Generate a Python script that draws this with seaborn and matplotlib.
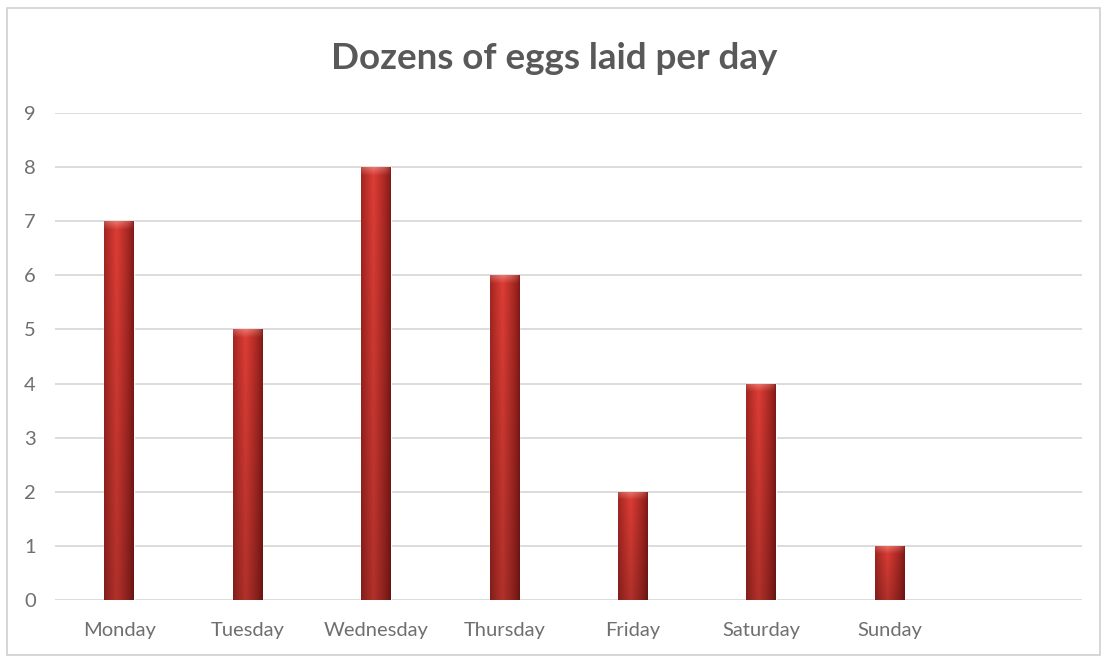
import numpy as np
import pandas as pd
import matplotlib
matplotlib.use("Agg")
import matplotlib.pyplot as plt
import seaborn as sns
from matplotlib.colors import to_rgb

days = ["Monday", "Tuesday", "Wednesday", "Thursday", "Friday", "Saturday", "Sunday"]
dozens = [7, 5, 8, 6, 2, 4, 1]
yticks = [0, 1, 2, 3, 4, 5, 6, 7, 8, 9]
title = "Dozens of eggs laid per day"

sns.set_theme(style="white")
plt.rcParams["font.family"] = ["Lato", "DejaVu Sans"]

fig = plt.figure(figsize=(11.09, 6.6), dpi=100)
ax = fig.add_axes([0.0496, 0.0909, 0.9261, 0.7379])

df = pd.DataFrame({"day": days, "dozens": dozens})
sns.barplot(data=df, x="day", y="dozens", order=days, color="#c0302b",
            width=0.23, ax=ax, zorder=3)

ax.set_xlim(-0.5, 7.5)
ax.set_ylim(0, 9)
ax.set_yticks(yticks)
ax.yaxis.grid(True, color="#d9d9d9", linewidth=1.3, zorder=0)
ax.xaxis.grid(False)
for s in ax.spines.values():
    s.set_visible(False)
ax.set_xlabel("")
ax.set_ylabel("")
ax.tick_params(axis="both", length=0, labelsize=14.5, labelcolor="#6f6f6f")
ax.tick_params(axis="x", pad=16)
ax.tick_params(axis="y", pad=18)
for lab in ax.get_yticklabels():
    lab.set_horizontalalignment("center")

# gradient fill for each bar
dark = np.array(to_rgb("#801816"))
bright = np.array(to_rgb("#de3d35"))
light = np.array(to_rgb("#f39b92"))
nx = 60
xs = np.linspace(0, 1, nx)
prof = np.clip(1 - np.abs(xs - 0.42) / 0.58, 0, 1) ** 0.8
px_per_unit = 54.1
for p in ax.patches:
    x0, y0 = p.get_x(), p.get_y()
    w, h = p.get_width(), p.get_height()
    if h <= 0:
        continue
    ny = max(int(h * px_per_unit), 2)
    img = np.zeros((ny, nx, 3))
    for i in range(ny):
        frac_from_top = i / ny
        row = dark[None, :] + (bright - dark)[None, :] * prof[:, None]
        row = row * (1 - 0.2 * frac_from_top)
        if i < 8:
            t = (1 - i / 8) * 0.6
            row = row + (light - row) * t * prof[:, None] ** 0.5
        img[i] = row
    im = ax.imshow(img, extent=(x0, x0 + w, y0, y0 + h), aspect="auto",
                   origin="upper", zorder=4, interpolation="bilinear")
    im.set_clip_path(p)
ax.set_xlim(-0.5, 7.5)
ax.set_ylim(0, 9)

fig.text(0.5, 0.912, title, ha="center", va="center", fontsize=26.5,
         fontweight="bold", color="#595959")

border = plt.Rectangle((0.006, 0.008), 0.986, 0.98, transform=fig.transFigure,
                       fill=False, edgecolor="#d0d0d0", linewidth=1.2)
fig.add_artist(border)

fig.savefig("out.png", dpi=100)
